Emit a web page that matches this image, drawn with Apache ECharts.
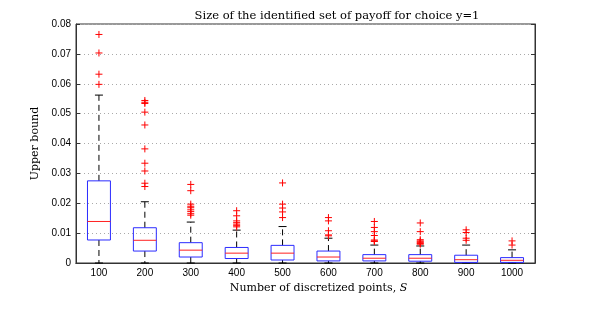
<!DOCTYPE html>
<html><head><meta charset="utf-8">
<script src="https://cdn.jsdelivr.net/npm/echarts@6/dist/echarts.min.js"></script>
<style>html,body{margin:0;padding:0;background:#fff}#c{width:589px;height:310px}</style>
</head><body><div id="c"></div>
<script>
var categories = ['100','200','300','400','500','600','700','800','900','1000'];
var whiskerLow = [0, 0, 0, 0, 0, 0, 0, 0, 0, 0];
var q1 = [0.0077, 0.0040, 0.0020, 0.0015, 0.0010, 0.0007, 0.0007, 0.0006, 0.0002, 0.0002];
var median = [0.0139, 0.0076, 0.0043, 0.0033, 0.0033, 0.0020, 0.0016, 0.0016, 0.0011, 0.0009];
var q3 = [0.0275, 0.0118, 0.0068, 0.0052, 0.0059, 0.0040, 0.0028, 0.0028, 0.0026, 0.0018];
var whiskerHigh = [0.0562, 0.0205, 0.0137, 0.0110, 0.0122, 0.0083, 0.0060, 0.0057, 0.0060, 0.0044];
var outliers = [
  [0.0765, 0.0703, 0.0632, 0.0598],
  [0.0544, 0.0538, 0.0534, 0.0505, 0.0462, 0.0382, 0.0334, 0.0308, 0.0267, 0.0256],
  [0.0263, 0.0242, 0.0197, 0.0190, 0.0185, 0.0178, 0.0172, 0.0165, 0.0160],
  [0.0175, 0.0158, 0.0141, 0.0135, 0.0130, 0.0125, 0.0121],
  [0.0268, 0.0197, 0.0184, 0.0171, 0.0152],
  [0.0152, 0.0141, 0.0108, 0.0094, 0.0091],
  [0.0139, 0.0119, 0.0105, 0.0092, 0.0077, 0.0074, 0.0072],
  [0.0134, 0.0105, 0.0078, 0.0074, 0.0071, 0.0068, 0.0065, 0.0063],
  [0.0111, 0.0102, 0.0083, 0.0076],
  [0.0074, 0.0060]
];
var yTicks = [0, 0.01, 0.02, 0.03, 0.04, 0.05, 0.06, 0.07, 0.08];

var boxData = categories.map(function(c, i){
  return [i, whiskerLow[i], q1[i], median[i], q3[i], whiskerHigh[i]];
});
var outData = [];
outliers.forEach(function(arr, i){ arr.forEach(function(v){ outData.push([i, v]); }); });

var chart = echarts.init(document.getElementById('c'));
var serif = '"DejaVu Serif", "Liberation Serif", serif';
var sans = '"Liberation Sans", Arial, sans-serif';
chart.setOption({
  animation: false,
  title: {
    text: 'Size of the identified set of payoff for choice y=1',
    left: 332, top: 5, textAlign: 'center',
    textStyle: {fontFamily: serif, fontSize: 11.5, fontWeight: 'normal', color: '#000'}
  },
  grid: {left: 76, right: 54, top: 24, bottom: 47, show: true, borderColor: '#333', borderWidth: 1, backgroundColor: 'transparent'},
  xAxis: [{
    type: 'category', data: categories, position: 'bottom',
    axisLine: {lineStyle: {color: '#333'}},
    axisTick: {inside: true, alignWithLabel: true, length: 4, lineStyle: {color: '#333'}},
    axisLabel: {fontFamily: sans, fontSize: 10, color: '#000', margin: 5},
    name: 'Number of discretized points, {i|S}', nameLocation: 'middle', nameGap: 13,
    nameTextStyle: {fontFamily: serif, fontSize: 11, color: '#000', padding: [0, 0, 0, 26],
      rich: {i: {fontFamily: serif, fontStyle: 'italic', fontSize: 11, color: '#000'}}}
  }, {
    type: 'category', data: categories, position: 'top',
    axisLine: {lineStyle: {color: '#333'}},
    axisTick: {inside: true, alignWithLabel: true, length: 4, lineStyle: {color: '#333'}},
    axisLabel: {show: false}
  }],
  yAxis: [{
    type: 'value', min: 0, max: 0.08, interval: 0.01,
    axisLine: {show: true, lineStyle: {color: '#333'}},
    axisTick: {show: true, inside: true, length: 4, lineStyle: {color: '#333'}},
    axisLabel: {fontFamily: sans, fontSize: 10, color: '#000', margin: 5,
      formatter: function(v){ return v === 0 ? '0' : v.toFixed(2); }},
    splitLine: {show: true, lineStyle: {color: '#aaa', type: [1, 3], width: 1}},
    name: 'Upper bound', nameLocation: 'middle', nameGap: 29, nameRotate: 90,
    nameTextStyle: {fontFamily: serif, fontSize: 11, color: '#000'}
  }, {
    type: 'value', min: 0, max: 0.08, interval: 0.01, position: 'right',
    axisLine: {show: true, lineStyle: {color: '#333'}},
    axisTick: {show: true, inside: true, length: 4, lineStyle: {color: '#333'}},
    axisLabel: {show: false}, splitLine: {show: false}
  }],
  series: [{
    type: 'custom', xAxisIndex: 0, yAxisIndex: 0,
    data: boxData, encode: {x: 0, y: [1, 2, 3, 4, 5]},
    renderItem: function(params, api){
      var i = api.value(0);
      var lo = api.coord([i, api.value(1)]);
      var b1 = api.coord([i, api.value(2)]);
      var md = api.coord([i, api.value(3)]);
      var b3 = api.coord([i, api.value(4)]);
      var hi = api.coord([i, api.value(5)]);
      var w = api.size([1, 0])[0] * 0.5;
      var cw = 4;
      var x = lo[0];
      var dash = {stroke: '#000', lineWidth: 1, lineDash: [6, 4]};
      return {type: 'group', children: [
        {type: 'line', shape: {x1: x, y1: b3[1], x2: x, y2: hi[1]}, style: dash},
        {type: 'line', shape: {x1: x, y1: b1[1], x2: x, y2: lo[1]}, style: dash},
        {type: 'line', shape: {x1: x - cw, y1: hi[1], x2: x + cw, y2: hi[1]}, style: {stroke: '#000', lineWidth: 1}},
        {type: 'line', shape: {x1: x - cw, y1: lo[1], x2: x + cw, y2: lo[1]}, style: {stroke: '#000', lineWidth: 1}},
        {type: 'rect', shape: {x: x - w / 2, y: b3[1], width: w, height: b1[1] - b3[1]}, style: {fill: 'none', stroke: '#2b2bff', lineWidth: 1}},
        {type: 'line', shape: {x1: x - w / 2, y1: md[1], x2: x + w / 2, y2: md[1]}, style: {stroke: '#ff2020', lineWidth: 1}}
      ]};
    }
  }, {
    type: 'custom', xAxisIndex: 0, yAxisIndex: 0,
    data: outData, encode: {x: 0, y: 1},
    renderItem: function(params, api){
      var p = api.coord([api.value(0), api.value(1)]);
      var s = 3.5;
      var st = {stroke: '#ff0000', lineWidth: 1};
      return {type: 'group', children: [
        {type: 'line', shape: {x1: p[0] - s, y1: p[1], x2: p[0] + s, y2: p[1]}, style: st},
        {type: 'line', shape: {x1: p[0], y1: p[1] - s, x2: p[0], y2: p[1] + s}, style: st}
      ]};
    }
  }]
});
</script></body></html>
